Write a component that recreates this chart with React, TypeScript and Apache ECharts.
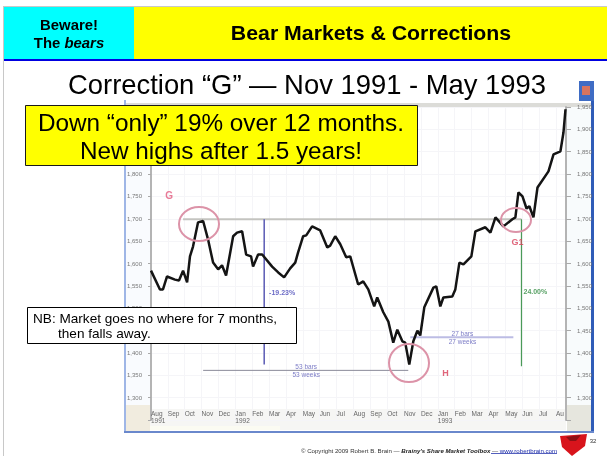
import React, { useEffect, useRef } from "react";
import * as echarts from "echarts";

const FONT = '"Liberation Sans", Arial, sans-serif';

// Months since 1 Aug 1991 for each reading of the index line
const monthsSinceStart = [
  0, 0.53, 0.71, 0.95, 1.42, 1.66, 1.9, 2.14, 2.31, 2.49, 2.79, 3.09, 3.38, 3.68, 3.98, 4.21, 4.45, 4.87, 5.1, 5.4,
  5.64, 5.93, 6.05, 6.35, 6.59, 7.18, 7.54, 7.89, 8.25, 8.55, 8.72, 9.02, 9.2, 9.55, 10.03, 10.45, 10.62, 10.92,
  11.22, 11.57, 11.81, 12.28, 12.58, 12.88, 13.23, 13.41, 13.77, 14.07, 14.36, 14.6, 14.9, 15.07, 15.31, 15.55,
  15.79, 15.96, 16.2, 16.74, 16.91, 17.15, 17.33, 17.86, 18.04, 18.28, 18.52, 18.99, 19.23, 19.82, 20.12, 20.42,
  20.89, 21.42, 21.6, 21.78, 22.02, 22.26, 22.43, 22.67, 22.91, 23.56, 23.86, 24.27, 24.45, 24.57,
];
const indexValues = [
  1584, 1542, 1542, 1571, 1564, 1562, 1584, 1558, 1616, 1638, 1692, 1695, 1654, 1602, 1587, 1596, 1573, 1661, 1669,
  1672, 1620, 1616, 1593, 1620, 1620, 1593, 1580, 1569, 1589, 1602, 1625, 1661, 1663, 1683, 1674, 1636, 1640, 1661,
  1643, 1614, 1616, 1553, 1560, 1542, 1504, 1524, 1491, 1470, 1423, 1452, 1426, 1423, 1374, 1426, 1450, 1439, 1502,
  1546, 1549, 1504, 1524, 1526, 1542, 1602, 1598, 1616, 1672, 1681, 1669, 1703, 1683, 1699, 1703, 1759, 1750, 1723,
  1728, 1703, 1770, 1806, 1844, 1851, 1893, 1945,
];
const monthLabels = [
  "Aug\n1991", "Sep", "Oct", "Nov", "Dec", "Jan\n1992", "Feb", "Mar", "Apr", "May", "Jun", "Jul", "Aug", "Sep", "Oct",
  "Nov", "Dec", "Jan\n1993", "Feb", "Mar", "Apr", "May", "Jun", "Jul", "Au",
];
const hiddenLeftTicks = [1250, 1450, 1850, 1900, 1950];
const priorHighLine = [[1.9, 1699], [21.96, 1699]];
const declineLine = [[6.71, 1699], [6.71, 1374]];
const declineSpanLine = [[3.09, 1361], [15.25, 1361]];
const recoverySpanLine = [[15.37, 1435], [21.48, 1435]];
const recoveryLine = [[21.96, 1699], [21.96, 1370]];
const pointLabels = [
  { at: [1.07, 1752], text: "G", color: "#e2587c", size: 10, bold: true, pos: "inside" },
  { at: [17.45, 1356], text: "H", color: "#d8405a", size: 9, bold: true, pos: "inside" },
  { at: [21.72, 1649], text: "G1", color: "#d8405a", size: 9, bold: true, pos: "inside" },
  { at: [7.0, 1535], text: "-19.23%", color: "#4646b8", size: 7, bold: true, pos: "right" },
  { at: [9.2, 1361], text: "53 bars\n53 weeks", color: "#5a5ab8", size: 6.5, bold: false, pos: "inside" },
  { at: [18.46, 1435], text: "27 bars\n27 weeks", color: "#5a5ab8", size: 6.5, bold: false, pos: "inside" },
  { at: [22.08, 1537], text: "24.00%", color: "#2e8a3e", size: 7, bold: true, pos: "right" },
];

const rect = (x: number, y: number, w: number, h: number, fill: string, z = -1) => ({
  type: "rect", z, silent: true, shape: { x, y, width: w, height: h }, style: { fill },
});
const ring = (cx: number, cy: number, rx: number, ry: number) => ({
  type: "ellipse", z: 10, silent: true, shape: { cx, cy, rx, ry },
  style: { fill: "none", stroke: "#dc93a8", lineWidth: 2 },
});
const txt = (text: string, x: number, y: number, size: number, extra: any = {}) => ({
  type: "text", z: 20, silent: true,
  style: { text, x, y, fontFamily: FONT, fontSize: size, fill: "#000", align: "center", verticalAlign: "middle", ...extra },
});
const annot = (name: string, data: number[][], color: string, width: number) => ({
  type: "line", name, data, symbol: "none", silent: true, z: 3,
  lineStyle: { color, width },
});

function useChart(ref: React.RefObject<HTMLDivElement | null>, option: any) {
  useEffect(() => {
    const chart = echarts.init(ref.current!, undefined, { renderer: "svg" });
    chart.setOption(option);
    return () => chart.dispose();
  }, []);
}

const leftLabel = (v: number) => (hiddenLeftTicks.includes(v) ? "" : v.toLocaleString("en-US"));
const rightLabel = (v: number) => (v === 1250 ? "" : v.toLocaleString("en-US"));

const chartOption = {
  animation: false,
  backgroundColor: "#ffffff",
  grid: { left: 151, right: 41, top: 107, bottom: 36, containLabel: false },
  xAxis: {
    type: "value", min: 0, max: 24.6, interval: 1, offset: -11,
    axisLine: { show: false }, axisTick: { show: false },
    axisLabel: {
      fontFamily: FONT, fontSize: 6.5, color: "#666", margin: 1, align: "left", lineHeight: 7,
      showMaxLabel: false,
      formatter: (v: number) => monthLabels[v] ?? "",
    },
    splitLine: { show: true, lineStyle: { color: "#f5f5f8", width: 1 } },
  },
  yAxis: [
    {
      type: "value", min: 1250, max: 1950, interval: 50, position: "left",
      axisLine: { show: true, lineStyle: { color: "#b4b4b4", width: 2 } },
      axisTick: { show: true, length: 3, lineStyle: { color: "#aaa" } },
      axisLabel: { fontFamily: FONT, fontSize: 6, color: "#777", margin: 9, formatter: leftLabel },
      splitLine: { show: true, lineStyle: { color: "#f5f5f8", width: 1 } },
    },
    {
      type: "value", min: 1250, max: 1950, interval: 50, position: "right",
      axisLine: { show: true, lineStyle: { color: "#b4b4b4", width: 2 } },
      axisTick: { show: true, length: 5, lineStyle: { color: "#aaa" } },
      axisLabel: { fontFamily: FONT, fontSize: 6, color: "#777", margin: 11, formatter: rightLabel },
      splitLine: { show: false },
    },
  ],
  series: [
    annot("Prior high", priorHighLine, "#c4c4c0", 2),
    annot("Decline", declineLine, "#5a5ab4", 1.5),
    annot("Decline span", declineSpanLine, "#8a8a9a", 1),
    annot("Recovery span", recoverySpanLine, "#bcbce4", 2),
    annot("Recovery", recoveryLine, "#4a9a58", 1.2),
    {
      type: "line", name: "Index", symbol: "none", z: 5, silent: true,
      data: monthsSinceStart.map((m, i) => [m, indexValues[i]]),
      lineStyle: { color: "#141414", width: 2.5 },
    },
    {
      type: "scatter", name: "Notes", symbolSize: 0, silent: true, z: 6,
      data: pointLabels.map((p) => ({
        value: p.at,
        label: {
          show: true, formatter: p.text, position: p.pos, distance: 0, color: p.color, fontSize: p.size, lineHeight: 8,
          fontFamily: FONT, fontWeight: p.bold ? "bold" : "normal",
        },
      })),
    },
  ],
  graphic: [
    rect(124, 100, 470, 333, "#ffffff"),
    rect(125, 103, 466, 4, "#dcdcd8"),
    rect(126, 107, 24, 300, "#f9fbfe"),
    rect(567, 107, 24, 300, "#f8fbfc"),
    rect(150, 409, 416, 21, "#f6f6f4"),
    rect(126, 405, 24, 26, "#f1ecdf"),
    rect(567, 405, 24, 26, "#e6e6de"),
    rect(150, 426, 130, 4, "#fbfbf2"),
    rect(124, 100, 2, 333, "#9fb6e6"),
    rect(591, 100, 3, 333, "#2f5cb8"),
    rect(124, 431, 470, 2, "#6a88cc"),
    rect(579, 81, 15, 20, "#3f6cc4"),
    rect(582, 86, 8, 9, "#d8745e"),
    ring(199, 224, 20, 17),
    ring(409, 363, 20, 19),
    ring(516, 220, 15, 12),
  ],
};

const overlayOption = {
  animation: false,
  graphic: [
    rect(3, 6, 604, 1, "#c8c8c8", 1),
    rect(3, 6, 1, 450, "#c8c8c8", 1),
    rect(4, 7, 130, 52, "#00ffff", 1),
    rect(134, 7, 473, 52, "#ffff00", 1),
    rect(4, 59, 603, 2, "#0000e0", 1),
    { ...txt("Beware!", 0, 0, 14.2, { fontWeight: "bold" }), x: 69, y: 25, scaleX: 1.05 },
    {
      ...txt("{a|The }{b|bears}", 0, 0, 14.2, {
        rich: {
          a: { fontFamily: FONT, fontSize: 14.2, fontWeight: "bold", fill: "#000" },
          b: { fontFamily: FONT, fontSize: 14.2, fontWeight: "bold", fontStyle: "italic", fill: "#000" },
        },
      }),
      x: 69, y: 43, scaleX: 1.05,
    },
    { ...txt("Bear Markets & Corrections", 0, 0, 21.3, { fontWeight: "bold" }), x: 371, y: 33, scaleY: 0.94 },
    txt("Correction “G” — Nov 1991 - May 1993", 307, 84, 27.4),
    {
      type: "rect", z: 15, silent: true, shape: { x: 25.5, y: 105.5, width: 392, height: 60 },
      style: { fill: "#ffff00", stroke: "#1a1a1a", lineWidth: 1 },
    },
    txt("Down “only” 19% over 12 months.", 221, 122, 24.3),
    txt("New highs after 1.5 years!", 221, 150, 24.3),
    {
      type: "rect", z: 15, silent: true, shape: { x: 27.5, y: 307.5, width: 269, height: 36 },
      style: { fill: "#ffffff", stroke: "#000", lineWidth: 1 },
    },
    txt("NB: Market goes no where for 7 months,", 33, 318, 13.6, { align: "left" }),
    txt("then falls away.", 58, 333, 13.6, { align: "left" }),
    txt("{a|© Copyright 2009 Robert B. Brain — }{b|Brainy's Share Market Toolbox}{a| — }{c|www.robertbrain.com}", 557, 450, 6, {
      align: "right",
      rich: {
        a: { fontFamily: FONT, fontSize: 6.1, fill: "#333" },
        b: { fontFamily: FONT, fontSize: 6.1, fontWeight: "bold", fontStyle: "italic", fill: "#222" },
        c: { fontFamily: FONT, fontSize: 6.1, fill: "#1a2aa8" },
      },
    }),
    rect(491, 453, 66, 0.7, "#1a2aa8", 20),
    txt("32", 593, 441, 6, { fill: "#333" }),
    {
      type: "polygon", z: 12, silent: true,
      shape: { points: [[560, 436], [587, 434], [585, 446], [572, 456], [562, 447]] },
      style: { fill: "#d8141c" },
    },
    {
      type: "polygon", z: 13, silent: true,
      shape: { points: [[566, 437], [581, 435], [576, 441], [570, 441]] },
      style: { fill: "#8c1014" },
    },
  ],
};

export default function App() {
  const base = useRef<HTMLDivElement>(null);
  const top = useRef<HTMLDivElement>(null);
  useChart(base, chartOption);
  useChart(top, overlayOption);
  const box: React.CSSProperties = { position: "fixed", left: 0, top: 0, width: 607, height: 456 };
  return (
    <>
      <div ref={base} style={{ ...box, filter: "blur(0.7px)" }} />
      <div ref={top} style={{ ...box, pointerEvents: "none" }} />
    </>
  );
}
